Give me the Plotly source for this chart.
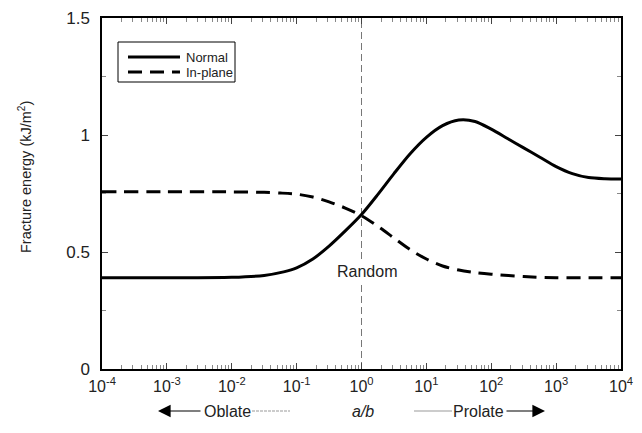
import plotly.graph_objects as go

# ---- data ----
normal_log_ab = [-4, -3, -2, -1.5, -1.2, -1.0, -0.75, -0.5, -0.25, 0.0, 0.25, 0.5, 0.75,
                 1.0, 1.25, 1.5, 1.75, 2.0, 2.25, 2.5, 2.75, 3.0, 3.25, 3.5, 3.75, 4.0]
normal_energy = [0.39, 0.39, 0.392, 0.40, 0.415, 0.432, 0.47, 0.525, 0.59, 0.66, 0.745, 0.835, 0.92,
                 0.99, 1.04, 1.064, 1.058, 1.025, 0.985, 0.945, 0.905, 0.865, 0.835, 0.818, 0.813, 0.812]

inplane_log_ab = [-4, -3, -2, -1.5, -1.25, -1.0, -0.75, -0.5, -0.25, 0.0, 0.25, 0.5, 0.75,
                  1.0, 1.25, 1.5, 1.75, 2.0, 2.5, 3.0, 3.5, 4.0]
inplane_energy = [0.757, 0.757, 0.757, 0.755, 0.752, 0.747, 0.735, 0.714, 0.688, 0.655, 0.61, 0.56, 0.51,
                  0.47, 0.44, 0.423, 0.412, 0.405, 0.395, 0.39, 0.39, 0.39]

series_names = ["Normal", "In-plane"]
x_tick_exponents = [-4, -3, -2, -1, 0, 1, 2, 3, 4]
y_tick_values = [0, 0.5, 1, 1.5]
y_tick_labels = ["0", "0.5", "1", "1.5"]
random_ab = 1.0

FONT = "Liberation Sans, Arial, Helvetica, sans-serif"
DASH = "14px,8px"

# plot-area geometry (page pixels); the page body adds an 8px offset to the figure
OFF = 8
L, R, T, B = 102, 621, 18, 369
W, H = R - L, B - T
def px(xp):
    return (xp - L) / W
def py(yp):
    return (B - yp) / H

normal_x = [10 ** e for e in normal_log_ab]
inplane_x = [10 ** e for e in inplane_log_ab]

fig = go.Figure()
fig.add_trace(go.Scatter(x=normal_x, y=normal_energy, mode="lines", name=series_names[0],
                         line=dict(color="black", width=3, shape="spline", smoothing=0.8),
                         showlegend=False))
fig.add_trace(go.Scatter(x=inplane_x, y=inplane_energy, mode="lines", name=series_names[1],
                         line=dict(color="black", width=3, dash=DASH, shape="spline", smoothing=0.8),
                         showlegend=False))

# vertical "random" line
fig.add_shape(type="line", xref="x", yref="paper", x0=random_ab, x1=random_ab, y0=0, y1=1,
              line=dict(color="#777777", width=1, dash="7px,4px"), layer="below")

# manual legend (box, samples, labels)
fig.add_shape(type="rect", xref="paper", yref="paper", x0=px(118), x1=px(235), y0=py(82), y1=py(42),
              line=dict(color="black", width=1), fillcolor="white")
fig.add_shape(type="line", xref="paper", yref="paper", x0=px(128), x1=px(180), y0=py(57), y1=py(57),
              line=dict(color="black", width=3))
fig.add_shape(type="line", xref="paper", yref="paper", x0=px(128), x1=px(180), y0=py(72), y1=py(72),
              line=dict(color="black", width=3, dash=DASH))

ROW = py(411)
annotations = [
    dict(text=series_names[0], xref="paper", yref="paper", x=px(184), y=py(57), showarrow=False,
         font=dict(size=13, color="#222", family=FONT), xanchor="left", yanchor="middle"),
    dict(text=series_names[1], xref="paper", yref="paper", x=px(184), y=py(72), showarrow=False,
         font=dict(size=13, color="#222", family=FONT), xanchor="left", yanchor="middle"),
    dict(text="Random", x=0.0, xref="x", y=0.415, yref="y", showarrow=False,
         font=dict(size=16, color="#222", family=FONT), bgcolor="white", xanchor="center", yanchor="middle",
         xshift=5),
    dict(text="Fracture energy (kJ/m<sup>2</sup>)", xref="paper", yref="paper",
         x=px(25), y=py(177), textangle=-90, showarrow=False,
         font=dict(size=14.5, color="#222", family=FONT), xanchor="center", yanchor="middle"),
    dict(text="Oblate", xref="paper", yref="paper", x=px(227), y=ROW,
         showarrow=False, font=dict(size=16, color="#222", family=FONT), xanchor="center", yanchor="middle"),
    dict(text="<i>a/b</i>", xref="paper", yref="paper", x=px(363), y=ROW,
         showarrow=False, font=dict(size=16, color="#222", family=FONT), xanchor="center", yanchor="middle"),
    dict(text="Prolate", xref="paper", yref="paper", x=px(478), y=ROW,
         showarrow=False, font=dict(size=16, color="#222", family=FONT), xanchor="center", yanchor="middle"),
    dict(text="", xref="paper", yref="paper", x=px(158), y=ROW,
         axref="pixel", ayref="pixel", ax=44, ay=0,
         showarrow=True, arrowhead=2, arrowsize=2.1, arrowwidth=1.2, arrowcolor="black"),
    dict(text="", xref="paper", yref="paper", x=px(545), y=ROW,
         axref="pixel", ayref="pixel", ax=-40, ay=0,
         showarrow=True, arrowhead=2, arrowsize=2.1, arrowwidth=1.2, arrowcolor="black"),
]
for a in annotations:
    fig.add_annotation(**a)

# thin grey guide lines next to the bottom labels
fig.add_shape(type="line", xref="paper", yref="paper", x0=px(252), x1=px(290), y0=ROW, y1=ROW,
              line=dict(color="#999", width=1, dash="3px,1px"))
fig.add_shape(type="line", xref="paper", yref="paper", x0=px(414), x1=px(452), y0=ROW, y1=ROW,
              line=dict(color="#999", width=1))

minor_x = [d * 10 ** e for e in range(-4, 4) for d in range(2, 10)]

fig.update_xaxes(type="log", range=[-4, 4], automargin=False,
                 tickvals=[10 ** e for e in x_tick_exponents],
                 ticktext=[f"10<sup>{e}</sup>" for e in x_tick_exponents],
                 ticks="inside", ticklen=6, tickwidth=1, tickcolor="#444",
                 minor=dict(ticks="inside", ticklen=4, tickwidth=1, tickcolor="#888",
                            tickmode="array", tickvals=minor_x),
                 showline=True, linecolor="black", linewidth=1.5, mirror="ticks",
                 showgrid=False, zeroline=False, ticklabelstandoff=2,
                 tickfont=dict(size=16, color="#222", family=FONT))
fig.update_yaxes(range=[0, 1.5], automargin=False, tickvals=y_tick_values, ticktext=y_tick_labels,
                 ticks="inside", ticklen=6, tickwidth=1, tickcolor="#444",
                 minor=dict(ticks="inside", ticklen=4, tickwidth=1, tickcolor="#888", dtick=0.25),
                 showline=True, linecolor="black", linewidth=1.5, mirror="ticks",
                 showgrid=False, zeroline=False, ticklabelstandoff=7,
                 tickfont=dict(size=17, color="#222", family=FONT))

fig.update_layout(
    template="none",
    width=642, height=433,
    margin=dict(l=L - OFF, r=642 - (R - OFF), t=T - OFF, b=433 - (B - OFF), autoexpand=False),
    paper_bgcolor="white", plot_bgcolor="white",
    font=dict(family=FONT, color="#222"),
    showlegend=False,
)

fig.write_html("out.html")
